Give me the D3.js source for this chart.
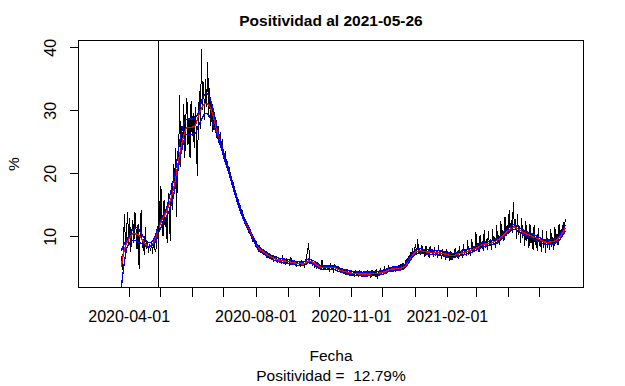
<!DOCTYPE html>
<html><head><meta charset="utf-8">
<script src="https://cdn.jsdelivr.net/npm/d3@7/dist/d3.min.js"></script>
<style>
html,body{margin:0;padding:0;background:#fff;}
svg{display:block;}
text{font-family:"Liberation Sans",Arial,sans-serif;fill:#000;white-space:pre;}
</style></head>
<body>
<svg id="chart" width="625" height="386"></svg>
<script>
// ---- data ----
const titleText = "Positividad al 2021-05-26";
const xLabel = "Fecha";
const subText = "Positividad =  12.79%";
const yLabel = "%";
const startDate = "2020-03-25";
const markerDate = "2020-04-29";
const xDomain = ["2020-02-12T17:00", "2021-06-12T12:00"];
const yDomain = [1.87, 41.08];
const yTicks = [10, 20, 30, 40];
const xTicks = ["2020-04-01","2020-05-01","2020-06-01","2020-07-01","2020-08-01","2020-09-01","2020-10-01","2020-11-01","2020-12-01","2021-01-01","2021-02-01","2021-03-01","2021-04-01","2021-05-01"];
const xTickLabels = ["2020-04-01","2020-08-01","2020-11-01","2021-02-01"];

// daily positivity (black), from 2020-03-25 to 2021-05-26
const positividad = [
6.8,4.6,9.5,13.5,7.2,11.0,13.8,8.4,12.9,7.5,
10.8,12.6,9.0,13.9,11.2,8.0,12.0,4.8,10.5,14.2,
8.2,9.6,7.0,11.5,8.0,9.2,7.4,8.8,7.6,8.9,
7.2,9.8,8.0,7.5,9.5,10.0,16.5,11.2,18.0,12.5,
10.0,15.8,11.5,13.0,9.0,16.8,14.0,9.2,18.5,14.2,
21.5,17.0,24.0,13.1,21.0,22.0,32.4,21.0,27.5,24.0,
31.0,22.5,29.0,32.0,24.5,28.5,22.4,31.5,26.0,29.5,
24.0,30.5,26.5,19.5,28.0,33.0,27.0,39.7,30.0,34.5,
28.5,35.0,30.5,37.6,29.0,33.5,27.5,31.5,26.5,30.0,
27.0,28.5,25.5,27.5,24.5,26.5,24.0,25.5,23.0,22.0,
23.5,21.5,21.8,20.0,21.0,19.2,19.5,17.8,18.6,16.8,
17.0,15.5,16.2,14.6,15.0,13.8,14.2,12.8,12.4,12.0,
11.5,11.9,10.8,10.5,10.9,9.8,9.4,10.0,9.0,8.5,
9.2,8.0,7.6,8.6,7.4,7.9,7.2,8.0,7.0,7.5,
6.6,7.3,6.5,7.2,6.4,6.9,6.0,6.8,6.3,6.6,
5.7,6.7,6.0,6.4,5.6,7.0,5.8,6.2,5.4,6.6,
5.9,6.0,5.3,6.7,5.5,6.2,5.4,5.9,5.2,6.0,
5.6,5.8,5.1,6.3,5.4,5.7,5.0,6.0,6.8,7.5,
8.9,6.5,5.6,6.2,5.3,5.9,5.0,5.6,4.8,5.9,
5.0,5.4,4.7,6.3,4.9,5.2,4.6,5.5,4.8,5.1,
4.4,5.8,4.7,5.0,4.5,5.3,4.8,5.0,4.5,5.2,
4.3,4.9,4.2,5.0,4.1,4.6,3.9,4.8,4.0,4.4,
3.7,4.5,3.9,4.3,3.6,4.6,3.8,4.2,3.5,4.7,
3.9,4.1,3.6,4.5,3.8,4.2,3.5,4.6,3.9,4.0,
3.4,4.7,3.8,4.3,3.6,4.8,3.3,4.4,3.9,4.9,
4.0,4.5,4.1,5.2,4.2,5.0,4.4,5.4,4.5,5.0,
4.4,5.3,4.6,5.1,4.3,5.2,4.6,5.5,4.5,5.6,
4.9,5.8,5.2,5.6,6.4,5.8,6.9,6.2,7.5,6.6,
8.2,7.0,7.8,8.8,7.1,9.5,7.4,8.1,7.0,8.6,
7.2,7.9,6.8,8.4,7.0,7.6,6.6,8.5,7.3,7.8,
6.7,8.3,6.9,7.7,6.5,8.6,7.0,7.6,6.4,8.0,
6.8,7.5,6.2,7.9,6.6,7.4,6.1,7.6,6.3,7.2,
6.5,8.2,6.7,7.5,6.4,8.4,6.9,7.8,6.6,8.8,
7.0,7.9,6.8,9.4,7.1,8.2,6.9,9.6,7.4,8.5,
7.6,10.7,7.8,8.9,7.5,10.2,8.1,9.3,7.7,11.0,
8.2,9.5,7.9,10.8,8.4,9.6,7.8,11.2,8.6,9.9,
8.1,11.8,8.8,10.2,8.6,12.4,9.4,11.0,9.2,13.0,
10.0,11.8,10.3,14.1,10.8,12.6,10.5,15.4,11.3,12.8,
9.6,13.5,10.2,11.6,9.0,12.9,9.7,11.0,8.5,12.4,
9.3,10.8,8.2,12.0,8.9,10.4,7.8,11.8,8.6,10.1,
7.6,11.3,8.4,9.8,7.5,11.0,8.2,9.6,7.4,10.8,
8.1,9.5,7.8,11.2,8.3,9.9,7.9,11.5,8.8,10.4,
8.6,12.0,9.5,11.2,10.0,12.3,10.9,12.79
];

// smoothed trend (red) and band (blue)
const smoothDates = ["2020-03-25","2020-03-27","2020-03-30","2020-04-02","2020-04-05","2020-04-09","2020-04-13","2020-04-17","2020-04-20","2020-04-23",
"2020-04-26","2020-04-29","2020-05-03","2020-05-07","2020-05-12","2020-05-16","2020-05-20","2020-05-24","2020-05-27","2020-05-31",
"2020-06-04","2020-06-07","2020-06-10","2020-06-13","2020-06-15","2020-06-18","2020-06-21","2020-06-24","2020-06-28","2020-07-02",
"2020-07-06","2020-07-10","2020-07-14","2020-07-20","2020-07-25","2020-07-30","2020-08-03","2020-08-08","2020-08-15","2020-08-23",
"2020-09-01","2020-09-10","2020-09-16","2020-09-21","2020-09-26","2020-09-30","2020-10-05","2020-10-16","2020-10-21","2020-10-31",
"2020-11-12","2020-11-26","2020-12-04","2020-12-08","2020-12-18","2020-12-23","2020-12-28","2021-01-01","2021-01-06","2021-01-11",
"2021-01-18","2021-01-24","2021-01-30","2021-02-06","2021-02-11","2021-02-17","2021-02-23","2021-03-02","2021-03-08","2021-03-15",
"2021-03-23","2021-03-29","2021-04-03","2021-04-07","2021-04-11","2021-04-17","2021-04-25","2021-05-02","2021-05-08","2021-05-14",
"2021-05-21","2021-05-26"];
const smoothMid = [5.2,7.3,8.9,9.8,10.4,10.35,9.7,8.8,8.35,8.6,
9.3,10.8,12.6,13.8,16.2,19.0,23.0,26.0,27.3,27.3,
27.6,29.0,30.3,31.0,31.1,30.6,29.3,27.3,25.0,22.6,
20.5,18.2,16.0,13.1,11.3,9.6,8.3,7.6,6.8,6.25,
6.0,5.7,5.6,6.1,5.8,5.3,5.0,5.0,4.65,4.2,
4.0,4.1,4.4,4.75,4.9,5.3,6.5,7.4,7.7,7.55,
7.45,7.4,7.2,6.9,7.15,7.4,7.7,8.2,8.7,8.9,
9.5,10.5,11.1,11.5,11.1,10.5,9.95,9.4,9.05,9.15,
9.95,11.3];
const smoothLo = [2.0,4.8,8.0,8.9,9.4,9.2,8.9,8.5,8.3,8.5,
8.9,10.2,11.8,13.0,15.0,18.0,22.0,25.0,26.2,26.2,
26.3,27.5,28.6,29.4,29.5,29.0,27.8,26.5,24.6,22.3,
20.2,17.9,15.7,12.8,11.0,9.3,8.0,7.3,6.5,5.95,
5.7,5.4,5.3,5.8,5.5,5.0,4.7,4.7,4.35,3.9,
3.7,3.8,4.1,4.45,4.6,5.0,6.2,7.1,7.35,7.2,
7.1,7.05,6.85,6.55,6.8,7.05,7.35,7.85,8.35,8.55,
9.15,10.15,10.75,11.1,10.75,10.15,9.6,9.05,8.7,8.8,
9.55,10.85];
const smoothHi = [7.7,8.6,9.3,10.4,11.1,11.4,10.5,9.4,9.0,9.1,
9.8,11.4,13.0,14.3,17.5,20.5,25.0,27.8,28.6,28.6,
28.8,29.6,31.4,32.5,32.7,32.0,30.3,28.0,25.5,22.9,
20.8,18.5,16.3,13.4,11.6,9.9,8.6,7.9,7.1,6.55,
6.3,6.0,5.9,6.4,6.1,5.6,5.3,5.3,4.95,4.5,
4.3,4.4,4.7,5.05,5.2,5.6,6.8,7.7,8.05,7.9,
7.8,7.75,7.55,7.25,7.5,7.75,8.05,8.55,9.05,9.25,
9.85,10.85,11.45,11.9,11.45,10.85,10.3,9.75,9.4,9.5,
10.35,11.75];

// ---- drawing ----
const parse = d3.utcParse("%Y-%m-%d");
const parseT = d3.utcParse("%Y-%m-%dT%H:%M");
const svg = d3.select("#chart");
const L = 78.5, R = 583.5, T = 40.5, B = 287.5;

const x = d3.scaleUtc().domain(xDomain.map(parseT)).range([L, R]);
const y = d3.scaleLinear().domain(yDomain).range([B, T]);

const t0 = parse(startDate);
const daily = positividad.map((v, i) => ({date: d3.utcDay.offset(t0, i), v}));
const sDates = smoothDates.map(parse);

svg.append("defs").append("clipPath").attr("id", "clip")
  .append("rect").attr("x", L).attr("y", T).attr("width", R - L).attr("height", B - T);

const g = svg.append("g").attr("clip-path", "url(#clip)");

const lineDaily = d3.line().x(d => x(d.date)).y(d => y(d.v));
g.append("path").datum(daily).attr("d", lineDaily)
  .attr("fill", "none").attr("stroke", "#000").attr("stroke-width", 1)
  .attr("shape-rendering", "crispEdges");

const smoothLine = arr => d3.line().curve(d3.curveMonotoneX)
  .x((d, i) => x(sDates[i])).y(d => y(d))(arr);

g.append("path").attr("d", smoothLine(smoothMid))
  .attr("fill", "none").attr("stroke", "#ff0000").attr("stroke-width", 1.3)
  .attr("shape-rendering", "crispEdges");
g.append("path").attr("d", smoothLine(smoothLo))
  .attr("fill", "none").attr("stroke", "#0000ff").attr("stroke-width", 1.3)
  .attr("shape-rendering", "crispEdges");
g.append("path").attr("d", smoothLine(smoothHi))
  .attr("fill", "none").attr("stroke", "#0000ff").attr("stroke-width", 1.3)
  .attr("shape-rendering", "crispEdges");

// vertical marker
const xm = Math.round(x(parse(markerDate))) + 0.5;
svg.append("line").attr("x1", xm).attr("x2", xm).attr("y1", T).attr("y2", B)
  .attr("stroke", "#000").attr("stroke-width", 1).attr("shape-rendering", "crispEdges");

// box
svg.append("rect").attr("x", L).attr("y", T).attr("width", R - L).attr("height", B - T)
  .attr("fill", "none").attr("stroke", "#000").attr("stroke-width", 1).attr("shape-rendering", "crispEdges");

// x axis
const labelSet = new Set(xTickLabels);
const xAxis = d3.axisBottom(x).tickValues(xTicks.map(parse))
  .tickSize(9).tickSizeOuter(0).tickPadding(14)
  .tickFormat(d => { const s = d3.utcFormat("%Y-%m-%d")(d); return labelSet.has(s) ? s : ""; });
const gx = svg.append("g").attr("transform", `translate(0,${B})`).call(xAxis);
gx.select(".domain").remove();
gx.selectAll("line").attr("shape-rendering", "crispEdges").attr("stroke", "#000");
gx.selectAll("text").attr("font-size", 16).attr("font-family", "Liberation Sans, Arial, sans-serif").attr("fill", "#000");

// y axis
const yAxis = d3.axisLeft(y).tickValues(yTicks).tickSize(9).tickSizeOuter(0).tickFormat(d3.format("d"));
const gy = svg.append("g").attr("transform", `translate(${L},0)`).call(yAxis);
gy.select(".domain").remove();
gy.selectAll("line").attr("shape-rendering", "crispEdges").attr("stroke", "#000");
gy.selectAll("text").attr("font-size", 16).attr("font-family", "Liberation Sans, Arial, sans-serif").attr("fill", "#000")
  .attr("x", null).attr("dy", null)
  .attr("text-anchor", "middle")
  .attr("transform", "translate(-23,0) rotate(-90)");

// titles
const cx = (L + R) / 2;
svg.append("text").attr("x", cx).attr("y", 26).attr("text-anchor", "middle")
  .attr("font-size", 15.5).attr("font-weight", "bold").text(titleText);
svg.append("text").attr("x", cx).attr("y", 361).attr("text-anchor", "middle")
  .attr("font-size", 15.5).text(xLabel);
svg.append("text").attr("x", cx).attr("y", 381).attr("text-anchor", "middle")
  .attr("font-size", 15.5).attr("xml:space", "preserve").text(subText);
svg.append("text").attr("transform", `translate(19,${(T + B) / 2}) rotate(-90)`)
  .attr("text-anchor", "middle").attr("font-size", 15.5).text(yLabel);
</script>
</body></html>
